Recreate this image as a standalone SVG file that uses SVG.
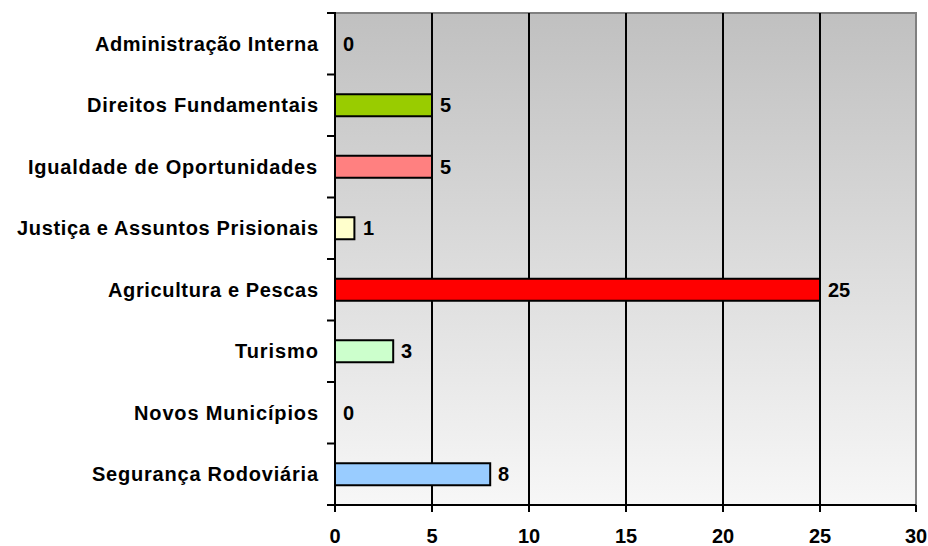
<svg xmlns="http://www.w3.org/2000/svg" width="928" height="546" viewBox="0 0 928 546">
<defs>
<linearGradient id="bg" x1="0" y1="0" x2="0" y2="1">
<stop offset="0" stop-color="#C0C0C0"/>
<stop offset="1" stop-color="#F7F7F7"/>
</linearGradient>
<style>
text{font-family:"Liberation Sans",Arial,sans-serif;font-weight:bold;font-size:20px;fill:#000}
.cat{text-anchor:end}
.tick{text-anchor:middle}
.bar{stroke:#000;stroke-width:2}
.grid{stroke:#000;stroke-width:2}
.ax{stroke:#000;stroke-width:2;fill:none}
</style>
</defs>
<rect width="928" height="546" fill="#fff"/>
<g id="plot">
<rect x="335" y="13" width="581" height="492" fill="url(#bg)"/>
<path d="M335,13H916V505" stroke="#808080" stroke-width="2" fill="none"/>
</g>
<g id="gridlines">
<line class="grid" x1="432" y1="13" x2="432" y2="505"/>
<line class="grid" x1="529" y1="13" x2="529" y2="505"/>
<line class="grid" x1="626" y1="13" x2="626" y2="505"/>
<line class="grid" x1="723" y1="13" x2="723" y2="505"/>
<line class="grid" x1="820" y1="13" x2="820" y2="505"/>
</g>
<g id="bars">
<rect class="bar" x="335" y="94.25" width="97" height="22" fill="#99CC00"/>
<rect class="bar" x="335" y="155.75" width="97" height="22" fill="#FF8080"/>
<rect class="bar" x="335" y="217.25" width="19.4" height="22" fill="#FFFFCC"/>
<rect class="bar" x="335" y="278.75" width="485" height="22" fill="#FF0000"/>
<rect class="bar" x="335" y="340.25" width="58.2" height="22" fill="#CCFFCC"/>
<rect class="bar" x="335" y="463.25" width="155.2" height="22" fill="#99CCFF"/>
</g>
<g id="axes">
<path class="ax" d="M335,12V505H916"/>
<path class="ax" d="M327,13H335M327,74.5H335M327,136H335M327,197.5H335M327,259H335M327,320.5H335M327,382H335M327,443.5H335M327,505H335"/>
<path class="ax" d="M335,505V512M432,505V512M529,505V512M626,505V512M723,505V512M820,505V512M916,505V512"/>
</g>
<g id="category-labels">
<text class="cat" x="318" y="50.75" textLength="223" lengthAdjust="spacing">Administração Interna</text>
<text class="cat" x="318" y="112.25" textLength="231" lengthAdjust="spacing">Direitos Fundamentais</text>
<text class="cat" x="317" y="173.75" textLength="289" lengthAdjust="spacing">Igualdade de Oportunidades</text>
<text class="cat" x="318" y="235.25" textLength="301" lengthAdjust="spacing">Justiça e Assuntos Prisionais</text>
<text class="cat" x="318" y="296.75" textLength="210" lengthAdjust="spacing">Agricultura e Pescas</text>
<text class="cat" x="318" y="358.25" textLength="83" lengthAdjust="spacing">Turismo</text>
<text class="cat" x="318" y="419.75" textLength="184" lengthAdjust="spacing">Novos Municípios</text>
<text class="cat" x="318" y="481.25" textLength="226" lengthAdjust="spacing">Segurança Rodoviária</text>
</g>
<g id="value-labels">
<text x="343" y="50.75">0</text>
<text x="440" y="112.25">5</text>
<text x="440" y="173.75">5</text>
<text x="363" y="235.25">1</text>
<text x="828" y="296.75">25</text>
<text x="401" y="358.25">3</text>
<text x="343" y="419.75">0</text>
<text x="498" y="481.25">8</text>
</g>
<g id="x-labels">
<text class="tick" x="335" y="543">0</text>
<text class="tick" x="432" y="543">5</text>
<text class="tick" x="529" y="543">10</text>
<text class="tick" x="626" y="543">15</text>
<text class="tick" x="723" y="543">20</text>
<text class="tick" x="820" y="543">25</text>
<text class="tick" x="916" y="543">30</text>
</g>
</svg>
